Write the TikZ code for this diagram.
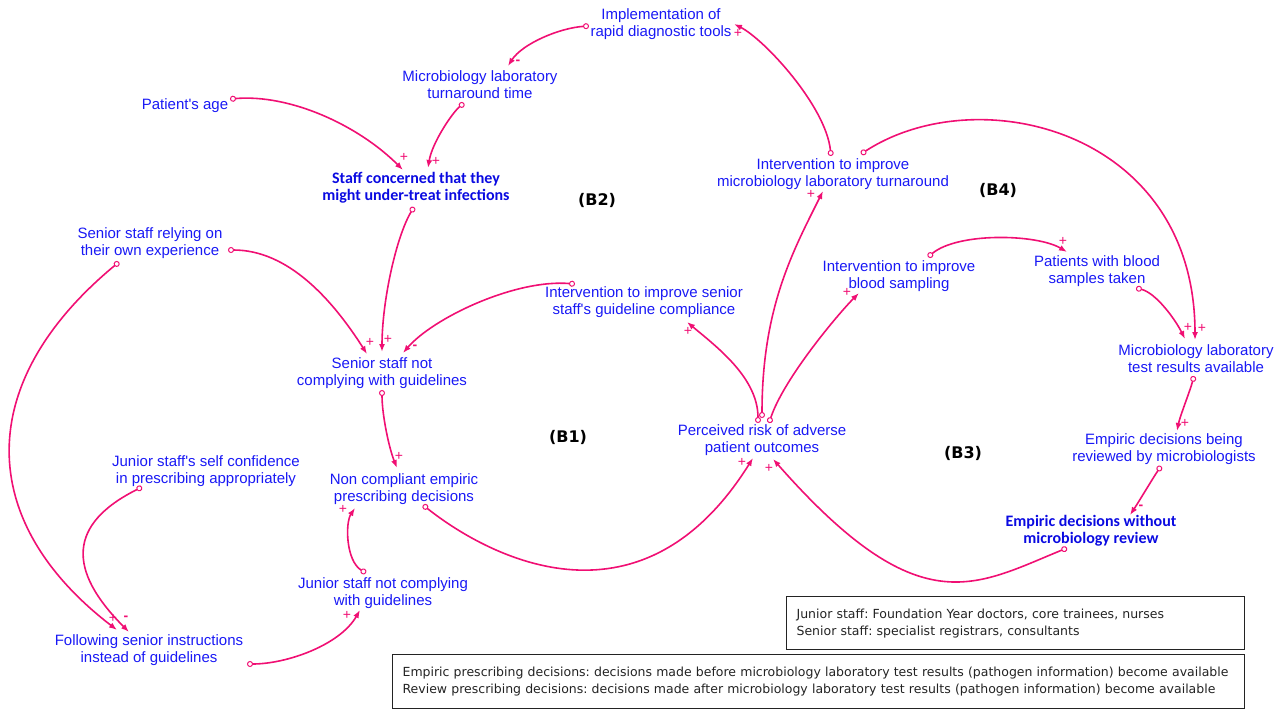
\documentclass[tikz,border=0pt]{standalone}
\usepackage{fontspec}
\setmainfont{Liberation Sans}
\newfontfamily\keyfont{Carlito}
\newfontfamily\notefont{DejaVu Sans}
\usetikzlibrary{arrows.meta}
\frenchspacing
\definecolor{varblue}{RGB}{25,25,245}
\definecolor{keyblue}{RGB}{10,10,225}
\definecolor{linkpink}{RGB}{240,15,115}
\definecolor{notegray}{RGB}{35,35,35}
\tikzset{
  var/.style={text=varblue, align=center, inner sep=0pt, font=\fontsize{15}{17}\selectfont},
  keyvar/.style={var, text=keyblue, font=\keyfont\bfseries\fontsize{16}{17}\selectfont},
  loopname/.style={inner sep=0pt, font=\notefont\bfseries\fontsize{16}{18}\selectfont},
  link/.style={draw=linkpink, line width=1.6pt,
    {Circle[open,length=6pt,width=6pt,line width=1pt]}-{Latex[length=8pt,width=6pt]}},
  sign/.style={text=linkpink, inner sep=0pt, font=\fontsize{14}{14}\selectfont},
  notebox/.style={draw=notegray, line width=1.2pt, text=notegray, align=left,
    inner xsep=10pt, anchor=north west, font=\notefont\fontsize{12.5}{17}\selectfont}
}
\begin{document}
\begin{tikzpicture}[x=1pt,y=-1pt]
  \useasboundingbox (0,0) rectangle (1282,709);
  % variables
  \node[var] (impl) at (661,24) {Implementation of\\rapid diagnostic tools};
  \node[var] (mlt) at (480,85) {Microbiology laboratory\\turnaround time};
  \node[var] (age) at (185,106) {Patient\textquotesingle s age};
  \node[keyvar] (concern) at (416,188) {Staff concerned that they\\might under-treat infections};
  \node[var] (relying) at (150,243) {Senior staff relying on\\their own experience};
  \node[var] (snc) at (382,373) {Senior staff not\\complying with guidelines};
  \node[var] (isc) at (644,302) {Intervention to improve senior\\staff\textquotesingle s guideline compliance};
  \node[var] (ncp) at (404,489) {Non compliant empiric\\prescribing decisions};
  \node[var] (jsc) at (206,471) {Junior staff\textquotesingle s self confidence\\in prescribing appropriately};
  \node[var] (jnc) at (383,593) {Junior staff not complying\\with guidelines};
  \node[var] (fsi) at (149,650) {Following senior instructions\\instead of guidelines};
  \node[var] (risk) at (762,440) {Perceived risk of adverse\\patient outcomes};
  \node[var] (imt) at (833,174) {Intervention to improve\\microbiology laboratory turnaround};
  \node[var] (ibs) at (899,276) {Intervention to improve\\blood sampling};
  \node[var] (pbs) at (1097,271) {Patients with blood\\samples taken};
  \node[var] (mtr) at (1196,359) {Microbiology laboratory\\test results available};
  \node[var] (edr) at (1164,449) {Empiric decisions being\\reviewed by microbiologists};
  \node[keyvar] (edw) at (1091,531) {Empiric decisions without\\microbiology review};
  % loop names
  \node[loopname] (b1) at (568,437) {(B1)};
  \node[loopname] (b2) at (597,200) {(B2)};
  \node[loopname] (b3) at (963,453) {(B3)};
  \node[loopname] (b4) at (998,190) {(B4)};
  % links
  \draw[link] ([shift={(-72,2)}]impl.center) .. controls +(-30,2) and +(14,-22) .. ([shift={(28,-19)}]mlt.center);
  \draw[link] ([shift={(-16,18)}]mlt.center) .. controls +(-12,10) and +(4,-25) .. ([shift={(12,-20)}]concern.center);
  \draw[link] ([shift={(45,-7)}]age.center) .. controls +(60,-5) and +(-45,-45) .. ([shift={(-13,-18)}]concern.center);
  \draw[link] ([shift={(-2,19)}]concern.center) .. controls +(-18,30) and +(0,-50) .. ([shift={(0,-21)}]snc.center);
  \draw[link] ([shift={(78,7)}]relying.center) .. controls +(60,0) and +(-35,-55) .. ([shift={(-15,-19)}]snc.center);
  \draw[link] ([shift={(-69,-18)}]isc.center) .. controls +(-60,-5) and +(30,-35) .. ([shift={(21,-20)}]snc.center);
  \draw[link] ([shift={(0,17)}]snc.center) .. controls +(0,25) and +(-8,-20) .. ([shift={(-7,-21)}]ncp.center);
  \draw[link] ([shift={(-31,19)}]relying.center) .. controls +(-145,120) and +(-142,-109) .. ([shift={(-32,-20)}]fsi.center);
  \draw[link] ([shift={(-64,16)}]jsc.center) .. controls +(-74,37) and +(-62,-62) .. ([shift={(-20,-18)}]fsi.center);
  \draw[link] ([shift={(98,14)}]fsi.center) .. controls +(40,0) and +(-20,35) .. ([shift={(-23,17)}]jnc.center);
  \draw[link] ([shift={(-17,-20)}]jnc.center) .. controls +(-20,-12) and +(-10,15) .. ([shift={(-49,19)}]ncp.center);
  \draw[link] ([shift={(19,16)}]ncp.center) .. controls +(59,47) and +(-115,184) .. ([shift={(-9,18)}]risk.center);
  \draw[link] ([shift={(-4,-17)}]risk.center) .. controls +(0,-45) and +(30,25) .. ([shift={(43,20)}]isc.center);
  \draw[link] ([shift={(0,-22)}]risk.center) .. controls +(0,-110) and +(-30,60) .. ([shift={(-10,17)}]imt.center);
  \draw[link] ([shift={(7,-17)}]risk.center) .. controls +(15,-45) and +(-20,20) .. ([shift={(-40,17)}]ibs.center);
  \draw[link] ([shift={(-2,-18)}]imt.center) .. controls +(-5,-50) and +(30,15) .. ([shift={(73,0)}]impl.center);
  \draw[link] ([shift={(28,-20)}]imt.center) .. controls +(117,-76) and +(0,-210) .. ([shift={(-1,-19)}]mtr.center);
  \draw[link] ([shift={(29,-19)}]ibs.center) .. controls +(30,-25) and +(-30,-18) .. ([shift={(-30,-19)}]pbs.center);
  \draw[link] ([shift={(39,17)}]pbs.center) .. controls +(20,5) and +(-10,-20) .. ([shift={(-11,-20)}]mtr.center);
  \draw[link] ([shift={(-2,17)}]mtr.center) .. controls +(-4,15) and +(3,-15) .. ([shift={(13,-18)}]edr.center);
  \draw[link] ([shift={(-3,17)}]edr.center) .. controls +(-8,12) and +(8,-12) .. ([shift={(39,-16)}]edw.center);
  \draw[link] ([shift={(-24,17)}]edw.center) .. controls +(-93,38) and +(146,166) .. ([shift={(11,19)}]risk.center);
  % polarities
  \node[sign] (p1) at (518,62) {\textbf{-}};
  \node[sign] (p2) at (436,161) {+};
  \node[sign] (p3) at (404,157) {+};
  \node[sign] (p4) at (388,339) {+};
  \node[sign] (p5) at (370,342) {+};
  \node[sign] (p6) at (415,347) {\textbf{-}};
  \node[sign] (p7) at (399,456) {+};
  \node[sign] (p8) at (113,618) {+};
  \node[sign] (p9) at (126,618) {\textbf{-}};
  \node[sign] (p10) at (347,615) {+};
  \node[sign] (p11) at (343,509) {+};
  \node[sign] (p12) at (742,462) {+};
  \node[sign] (p13) at (769,468) {+};
  \node[sign] (p14) at (688,331) {+};
  \node[sign] (p15) at (811,194) {+};
  \node[sign] (p16) at (847,292) {+};
  \node[sign] (p17) at (738,33) {+};
  \node[sign] (p18) at (1202,328) {+};
  \node[sign] (p19) at (1063,241) {+};
  \node[sign] (p20) at (1188,327) {+};
  \node[sign] (p21) at (1185,423) {+};
  \node[sign] (p22) at (1141,507) {\textbf{-}};
  % notes
  \node[notebox, text width=438pt, minimum height=53pt] (staffnote) at (786,596)
    {Junior staff: Foundation Year doctors, core trainees, nurses\\Senior staff: specialist registrars, consultants};
  \node[notebox, text width=832pt, minimum height=54pt] (decisionnote) at (392,654)
    {Empiric prescribing decisions: decisions made before microbiology laboratory test results (pathogen information) become available\\Review prescribing decisions: decisions made after microbiology laboratory test results (pathogen information) become available};
\end{tikzpicture}
\end{document}
